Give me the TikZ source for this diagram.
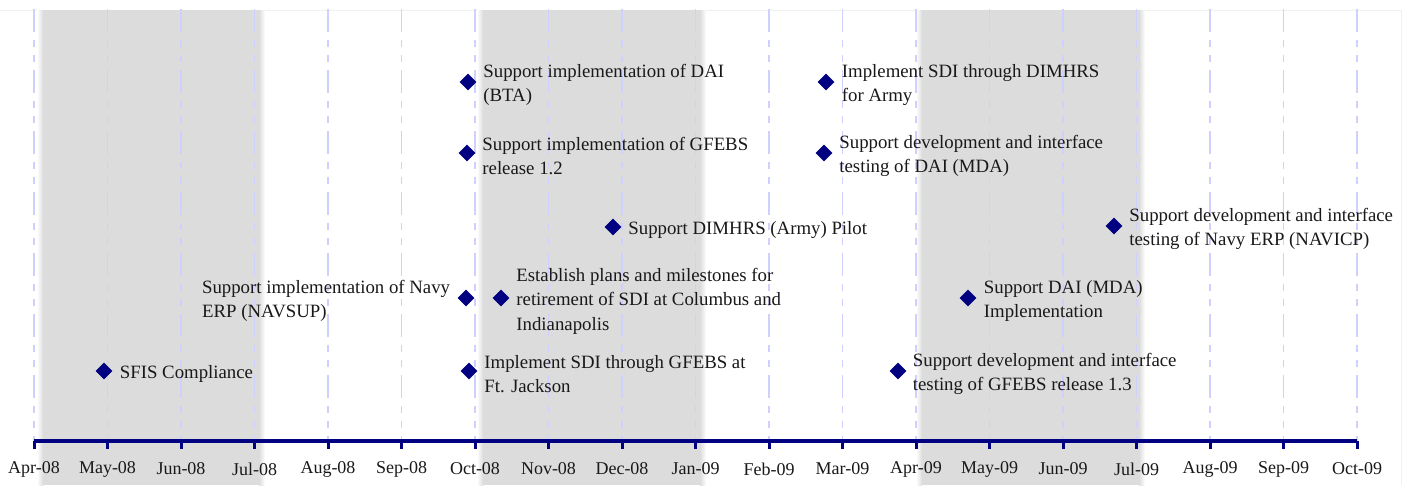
\documentclass[tikz,border=0pt]{standalone}
\usepackage{fontspec}
\setmainfont{Liberation Serif}
\usetikzlibrary{shapes.geometric,positioning}
\definecolor{navyblue}{HTML}{000080}
\definecolor{bandgray}{HTML}{DCDCDC}
\definecolor{gridblue}{HTML}{D0D0FF}
\begin{document}
\begin{tikzpicture}[x=1pt,y=-1pt,
  milestone/.style={diamond, fill=navyblue, draw=none, minimum width=17pt, minimum height=17pt, inner sep=0pt},
  note/.style={font=\fontsize{18.8}{24.5}\selectfont, align=left, inner sep=0pt, text=black!90, yshift=-3pt},
  month/.style={font=\fontsize{18}{20}\selectfont, inner sep=0pt, text=black!90},
  gridline/.style={gridblue, line width=1.1pt, dash pattern=on 23pt off 8pt on 7pt off 8pt on 7pt off 8pt},
  axisline/.style={navyblue, line width=3.2pt},
  tickmark/.style={navyblue, line width=3pt}]
\useasboundingbox (0,0) rectangle (1409,485);
\fill[white] (0,0) rectangle (1409,485);
\draw[black!6, line width=0.8pt] (0,10) -- (1401,10) -- (1401,485);
% shaded quarters
\foreach \a/\b in {40/262,480/703,919/1142}{
  \fill[bandgray] (\a+3,10) rectangle (\b-3,485);
  \shade[left color=white, right color=bandgray] (\a-3,10) rectangle (\a+3,485);
  \shade[left color=bandgray, right color=white] (\b-3,10) rectangle (\b+3,485);
}
% month grid, ticks and labels
\foreach \m [count=\i from 0] in {Apr-08,May-08,Jun-08,Jul-08,Aug-08,Sep-08,Oct-08,Nov-08,Dec-08,Jan-09,Feb-09,Mar-09,Apr-09,May-09,Jun-09,Jul-09,Aug-09,Sep-09,Oct-09}{
  \coordinate (m\i) at (34+73.5*\i,441);
  \coordinate (g\i) at (34+73.5*\i,9);
  \draw[gridline] (g\i) -- (m\i);
  \node[month] (lab\i) at (34+73.5*\i,469) {\m};
}
\draw[axisline] (m0) -- (m18);
\foreach \i in {0,...,18}{
  \draw[tickmark] (m\i) -- ++(0,8);
}
% milestones
\node[milestone] (sfis) at (104,371) {};
\node[note, right=7pt of sfis] (sfisT) {SFIS Compliance};

\node[milestone] (daibta) at (468,82) {};
\node[note, right=6.5pt of daibta] (daibtaT) {Support implementation of DAI\\(BTA)};

\node[milestone] (gfebs12) at (467,153) {};
\node[note, right=6.5pt of gfebs12] (gfebs12T) {Support implementation of GFEBS\\release 1.2};

\node[milestone] (navsup) at (466,298) {};
\node[note, left=7pt of navsup] (navsupT) {Support implementation of Navy\\ERP (NAVSUP)};

\node[milestone] (plans) at (501,298) {};
\node[note, right=6.5pt of plans] (plansT) {Establish plans and milestones for\\retirement of SDI at Columbus and\\Indianapolis};

\node[milestone] (ftj) at (469,371) {};
\node[note, right=6.5pt of ftj] (ftjT) {Implement SDI through GFEBS at\\Ft. Jackson};

\node[milestone] (pilot) at (613,227) {};
\node[note, right=6.5pt of pilot] (pilotT) {Support DIMHRS (Army) Pilot};

\node[milestone] (dimhrs) at (826,82) {};
\node[note, right=7pt of dimhrs] (dimhrsT) {Implement SDI through DIMHRS\\for Army};

\node[milestone] (daimda) at (824,153) {};
\node[note, right=6.5pt of daimda] (daimdaT) {Support development and interface\\testing of DAI (MDA)};

\node[milestone] (navicp) at (1114,226) {};
\node[note, right=6.5pt of navicp] (navicpT) {Support development and interface\\testing of Navy ERP (NAVICP)};

\node[milestone] (mdaimpl) at (968,298) {};
\node[note, right=7pt of mdaimpl] (mdaimplT) {Support DAI (MDA)\\Implementation};

\node[milestone] (gfebs13) at (898,371) {};
\node[note, right=6pt of gfebs13] (gfebs13T) {Support development and interface\\testing of GFEBS release 1.3};
\end{tikzpicture}
\end{document}
